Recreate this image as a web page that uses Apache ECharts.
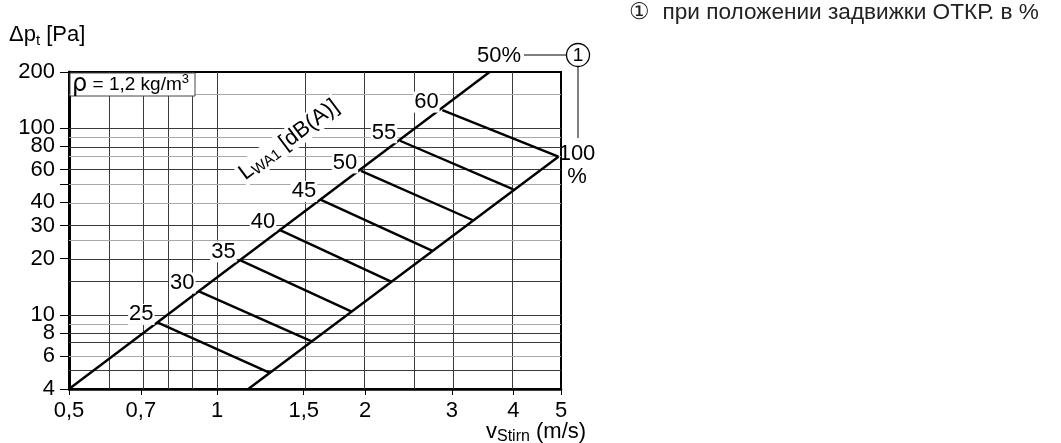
<!DOCTYPE html>
<html><head><meta charset="utf-8">
<script src="https://cdn.jsdelivr.net/npm/echarts@6/dist/echarts.min.js"></script>
<style>html,body{margin:0;padding:0;background:#fff}#c{width:1061px;height:443px}</style>
</head><body><div id="c"></div>
<script>
// ---- data (real units) ----
const xTickLabels = [0.5, 0.7, 1, 1.5, 2, 3, 4, 5];
const yTickLabels = [4, 6, 8, 10, 20, 30, 40, 60, 80, 100, 200];
const yTicks = [4, 6, 8, 10, 20, 30, 40, 50, 60, 80, 100, 200];
const xGrid = [0.6, 0.7, 0.8, 0.9, 1, 1.5, 2, 2.5, 3, 4];
const yGridDark = [5, 7, 8, 10, 15, 20, 30, 60, 80, 100];
const yGridLight = [6, 9, 25, 40, 50, 70, 90, 150];
const line50 = [[0.5, 4], [3.58, 200]];
const line100 = [[1.157, 4], [4.94, 70.3]];
const dbLevels = [25, 30, 35, 40, 45, 50, 55, 60];
const dbStart = [[0.756, 9.1], [0.916, 13.4], [1.11, 19.7], [1.336, 28.6], [1.618, 41.5], [1.961, 59], [2.354, 85.6], [2.87, 125]];
const dbEnd = [[1.28, 4.88], [1.557, 7.2], [1.877, 10.4], [2.264, 15.0], [2.74, 22.0], [3.32, 32.0], [4.0, 47.0], [4.94, 70.3]];

const L = Math.log10;
const P = p => [L(p[0]), L(p[1])];
const FONT = '"Liberation Sans", Arial, sans-serif';
const fmt = v => {
  const r = Math.round(Math.pow(10, v) * 100) / 100;
  return String(r).replace('.', ',');
};

const chart = echarts.init(document.getElementById('c'), null, {renderer: 'canvas'});

const series = [];
// gridlines
series.push({
  type: 'line', data: [], silent: true, z: 1,
  markLine: {
    silent: true, symbol: ['none', 'none'], label: {show: false}, animation: false,
    lineStyle: {color: '#3a3a3a', width: 1, type: 'solid'},
    data: xGrid.map(v => ({xAxis: L(v)})).concat(yGridDark.map(v => ({yAxis: L(v)})))
  }
});
series.push({
  type: 'line', data: [], silent: true, z: 1,
  markLine: {
    silent: true, symbol: ['none', 'none'], label: {show: false}, animation: false,
    lineStyle: {color: '#a8a8a8', width: 1.2, type: 'solid'},
    data: yGridLight.map(v => ({yAxis: L(v)}))
  }
});
// main lines
[line50, line100].forEach(d => series.push({
  type: 'line', data: d.map(P), showSymbol: false, silent: true, z: 5,
  lineStyle: {color: '#000', width: 2.4}, animation: false
}));
dbLevels.forEach((lv, i) => series.push({
  type: 'line', data: [P(dbStart[i]), P(dbEnd[i])], showSymbol: false, silent: true, z: 5,
  lineStyle: {color: '#000', width: 2.4}, animation: false
}));
// dB labels
series.push({
  type: 'scatter', symbolSize: 1, itemStyle: {color: '#000', opacity: 0}, z: 6, silent: true, animation: false,
  data: dbStart.map((p, i) => [L(p[0]), L(p[1]), dbLevels[i]]),
  label: {
    show: true, position: 'inside', offset: [-16, -8], formatter: p => String(p.data[2]),
    fontFamily: FONT, fontSize: 22, color: '#000', textBorderWidth: 0, opacity: 1,
    backgroundColor: '#fff', padding: [0, 1, -1, 1]
  }
});

chart.setOption({
  animation: false,
  grid: {left: 69, right: 500, top: 72, bottom: 54, show: true, borderColor: '#000', borderWidth: 2, backgroundColor: 'transparent'},
  xAxis: {
    type: 'value', min: L(0.5), max: L(5),
    axisLine: {show: true, onZero: false, lineStyle: {color: '#000', width: 2.5}},
    axisTick: {show: true, customValues: xTickLabels.map(L), length: 6, lineStyle: {color: '#000', width: 1}},
    axisLabel: {customValues: xTickLabels.map(L), formatter: fmt, fontFamily: FONT, fontSize: 22, color: '#000', margin: 11},
    splitLine: {show: false}
  },
  yAxis: {
    type: 'value', min: L(4), max: L(200),
    axisLine: {show: true, onZero: false, lineStyle: {color: '#000', width: 3}},
    axisTick: {show: true, customValues: yTicks.map(L), length: 9, lineStyle: {color: '#000', width: 1}},
    axisLabel: {customValues: yTickLabels.map(L), formatter: fmt, fontFamily: FONT, fontSize: 22, color: '#000', margin: 14},
    splitLine: {show: false}
  },
  series: series,
  graphic: [
    {type: 'text', x: 629, y: 13, z: 100, style: {text: '①  при положении задвижки ОТКР. в %', font: '22.6px "Liberation Sans", Arial, sans-serif', fill: '#222', verticalAlign: 'middle', align: 'left'}},
    {type: 'text', x: 9, y: 35, z: 100, style: {
      text: '{a|Δp}{b|t}{a| [Pa]}', verticalAlign: 'middle', align: 'left',
      rich: {a: {fontFamily: FONT, fontSize: 22, lineHeight: 26, fill: '#000'}, b: {fontFamily: FONT, fontSize: 15, lineHeight: 18, verticalAlign: 'bottom', fill: '#000'}}
    }},
    {type: 'text', x: 486, y: 432, z: 100, style: {
      text: '{a|v}{b|Stirn}{a| (m/s)}', verticalAlign: 'middle', align: 'left',
      rich: {a: {fontFamily: FONT, fontSize: 22, lineHeight: 26, fill: '#000'}, b: {fontFamily: FONT, fontSize: 16, lineHeight: 18, verticalAlign: 'bottom', fill: '#000'}}
    }},
    {type: 'rect', z: 100, shape: {x: 70, y: 73, width: 125, height: 23}, style: {fill: '#fff', stroke: '#444', lineWidth: 1}},
    {type: 'text', x: 72, y: 85, z: 101, style: {
      text: '{r|ρ}{a| = 1,2 kg/m}{s|3}', verticalAlign: 'middle', align: 'left',
      rich: {r: {fontFamily: '"DejaVu Sans", sans-serif', fontSize: 24, lineHeight: 24, fill: '#000'}, a: {fontFamily: FONT, fontSize: 19, lineHeight: 24, fill: '#000'}, s: {fontFamily: FONT, fontSize: 13, lineHeight: 24, verticalAlign: 'top', fill: '#000'}}
    }},
    {type: 'text', x: 289, y: 140, rotation: 37 * Math.PI / 180, z: 100, style: {
      text: '{a|L}{b|WA1}{a| [dB(A)]}', verticalAlign: 'middle', align: 'center', backgroundColor: '#fff', padding: [0, 2],
      rich: {a: {fontFamily: FONT, fontSize: 22, lineHeight: 24, fill: '#000'}, b: {fontFamily: FONT, fontSize: 15, lineHeight: 18, verticalAlign: 'bottom', fill: '#000'}}
    }},
    {type: 'text', x: 499, y: 56, z: 100, style: {text: '50%', font: '22px ' + FONT, fill: '#000', align: 'center', verticalAlign: 'middle'}},
    {type: 'line', z: 100, shape: {x1: 524, y1: 55, x2: 566, y2: 55}, style: {stroke: '#000', lineWidth: 1}},
    {type: 'circle', z: 100, shape: {cx: 578, cy: 55, r: 11.5}, style: {fill: '#fff', stroke: '#000', lineWidth: 1.3}},
    {type: 'text', x: 578, y: 56, z: 101, style: {text: '1', font: '19px ' + FONT, fill: '#000', align: 'center', verticalAlign: 'middle'}},
    {type: 'line', z: 100, shape: {x1: 578, y1: 66.5, x2: 578, y2: 138}, style: {stroke: '#000', lineWidth: 1}},
    {type: 'text', x: 577, y: 154, z: 100, style: {text: '100', font: '22px ' + FONT, fill: '#000', align: 'center', verticalAlign: 'middle'}},
    {type: 'text', x: 577, y: 177, z: 100, style: {text: '%', font: '22px ' + FONT, fill: '#000', align: 'center', verticalAlign: 'middle'}}
  ]
});
</script>
</body></html>
